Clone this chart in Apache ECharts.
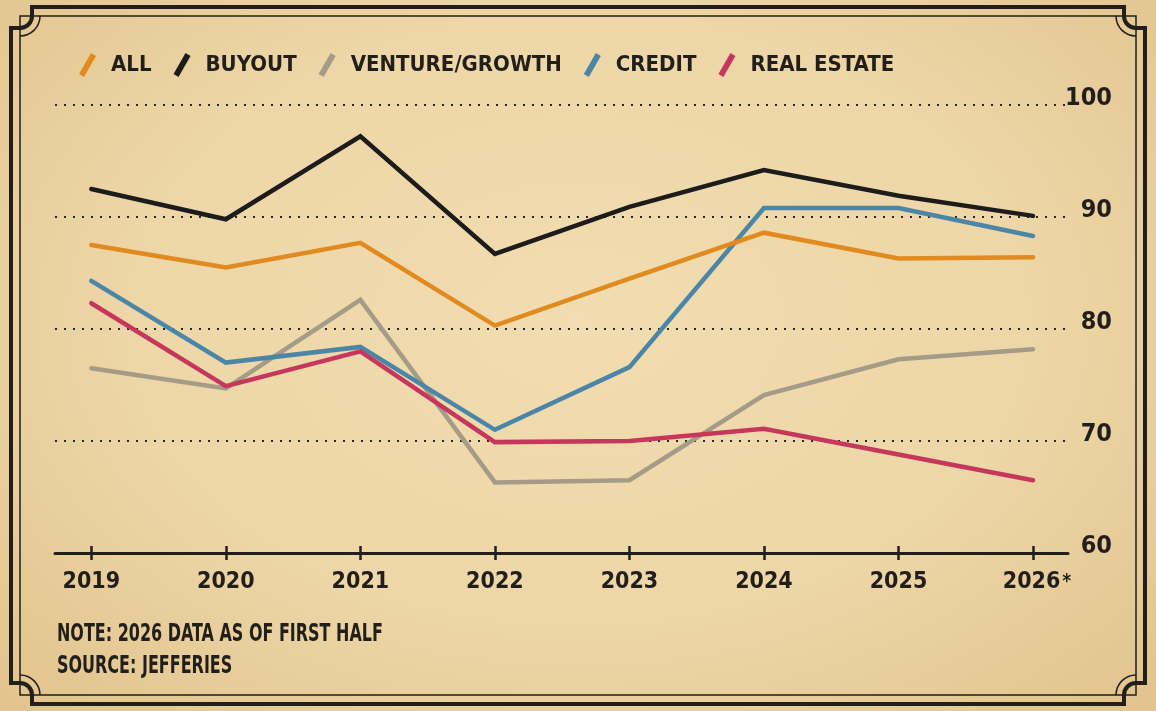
<!DOCTYPE html>
<html>
<head>
<meta charset="utf-8">
<script src="https://cdn.jsdelivr.net/npm/echarts@6/dist/echarts.min.js"></script>
<style>
    html, body {
        margin: 0;
        padding: 0;
        width: 1156px;
        height: 711px;
        overflow: hidden;
        background: radial-gradient(ellipse at 50% 45%, #f1ddb1 0%, #edd6a7 55%, #e1c38d 100%);
    }
    #chart {
        width: 1156px;
        height: 711px;
    }
</style>
</head>
<body>
<div id="chart"></div>
<script>
// values
var years = [2019, 2020, 2021, 2022, 2023, 2024, 2025, 2026];
var allFunds = [87.5, 85.5, 87.7, 80.3, 84.5, 88.6, 86.3, 86.4];
var buyout = [92.5, 89.8, 97.2, 86.7, 90.9, 94.2, 91.9, 90.1];
var ventureGrowth = [76.5, 74.7, 82.6, 66.3, 66.5, 74.1, 77.3, 78.2];
var credit = [84.3, 77.0, 78.4, 71.0, 76.6, 90.8, 90.8, 88.3];
var realEstate = [82.3, 74.9, 78.0, 69.9, 70.0, 71.1, 68.8, 66.5];
var yTicks = [60, 70, 80, 90, 100];

var ink = "#221e19";
var font = "'Liberation Sans Narrow', 'DejaVu Sans Condensed', 'DejaVu Sans', sans-serif";

function pairs(values) {
    return years.map(function (y, i) {
        return [y, values[i]];
    });
}

function lineSeries(name, values, color) {
    return {
        name: name,
        type: "line",
        data: pairs(values),
        showSymbol: false,
        symbol: "none",
        lineStyle: { color: color, width: 4.5, cap: "round", join: "miter" },
        itemStyle: { color: color },
        emphasis: { disabled: true },
    };
}

// frame with notched corners
function frame() {
    var L = 11, T = 7, R = 1145, B = 704;
    var l = 20, t = 16, r = 1136, b = 695;
    var thick = { stroke: ink, lineWidth: 4, fill: null };
    var thin = { stroke: ink, lineWidth: 1.5, fill: null };
    var els = [
        { type: "polyline", shape: { points: [[32, t], [32, T], [r - 12, T], [r - 12, t]] }, style: thick },
        { type: "polyline", shape: { points: [[32, b], [32, B], [r - 12, B], [r - 12, b]] }, style: thick },
        { type: "polyline", shape: { points: [[l, t + 12], [L, t + 12], [L, b - 12], [l, b - 12]] }, style: thick },
        { type: "polyline", shape: { points: [[r, t + 12], [R, t + 12], [R, b - 12], [r, b - 12]] }, style: thick },
        { type: "rect", shape: { x: l, y: t, width: r - l, height: b - t }, style: thin },
    ];
    var corners = [[l, t, 0], [r, t, 0.5], [r, b, 1], [l, b, 1.5]];
    corners.forEach(function (c) {
        var a0 = c[2] * Math.PI;
        els.push({ type: "arc", shape: { cx: c[0], cy: c[1], r: 12, startAngle: a0, endAngle: a0 + Math.PI / 2 }, style: thick });
        els.push({ type: "arc", shape: { cx: c[0], cy: c[1], r: 20, startAngle: a0, endAngle: a0 + Math.PI / 2 }, style: thin });
    });
    return els;
}

var myChart = echarts.init(document.getElementById("chart"));

var option = {
    backgroundColor: "transparent",
    animation: false,
    textStyle: { fontFamily: font, color: ink },
    legend: {
        data: ["ALL", "BUYOUT", "VENTURE/GROWTH", "CREDIT", "REAL ESTATE"],
        left: 74,
        top: 48,
        icon: "path://M12,0 L17,3 L5,24 L0,21 Z",
        itemWidth: 17,
        itemHeight: 24,
        itemGap: 22,
        textStyle: {
            fontFamily: font,
            fontWeight: "bold",
            fontSize: 22,
            color: ink,
            padding: [0, 0, 0, 10],
        },
    },
    grid: {
        left: 55,
        right: 88,
        top: 105,
        bottom: 158,
        containLabel: false,
    },
    xAxis: [
        {
            type: "value",
            min: 2018.73,
            max: 2026.26,
            axisLine: { show: true, lineStyle: { color: ink, width: 3 } },
            axisTick: { show: true, customValues: years, length: 7, lineStyle: { color: ink, width: 2.5 } },
            axisLabel: {
                customValues: years,
                margin: 15,
                formatter: function (v) {
                    if (v === 2026) {
                        return "{sp|}{y|2026}{s|*}";
                    }
                    return "{y|" + v + "}";
                },
                rich: {
                    sp: { width: 8, height: 28 },
                    y: { fontFamily: font, fontWeight: "bold", fontSize: 23, color: ink, height: 28, lineHeight: 28 },
                    s: { fontFamily: font, fontWeight: "bold", fontSize: 19, color: ink, height: 28, lineHeight: 28, verticalAlign: "top", padding: [0, 0, 0, 2] },
                },
            },
            splitLine: { show: false },
        },
        {
            type: "value",
            min: 2018.73,
            max: 2026.26,
            position: "bottom",
            axisLine: { show: false },
            axisTick: { show: true, inside: true, customValues: years, length: 7, lineStyle: { color: ink, width: 2.5 } },
            axisLabel: { show: false },
            splitLine: { show: false },
        },
    ],
    yAxis: {
        type: "value",
        position: "right",
        min: yTicks[0],
        max: yTicks[yTicks.length - 1],
        interval: 10,
        axisLine: { show: false },
        axisTick: { show: false },
        axisLabel: {
            align: "right",
            margin: 44,
            verticalAlign: "middle",
            showMinLabel: true,
            showMaxLabel: true,
            formatter: function (v) {
                return "{v|" + v + "}";
            },
            rich: {
                v: {
                    fontFamily: font,
                    fontWeight: "bold",
                    fontSize: 25,
                    color: ink,
                    padding: [0, 0, 14, 0],
                },
            },
        },
        splitLine: {
            show: true,
            lineStyle: { color: "#2a251f", width: 2, type: [2, 7] },
        },
    },
    series: [
        lineSeries("VENTURE/GROWTH", ventureGrowth, "#a59b86"),
        lineSeries("CREDIT", credit, "#4b86a7"),
        lineSeries("REAL ESTATE", realEstate, "#c6385b"),
        lineSeries("ALL", allFunds, "#e18a1f"),
        lineSeries("BUYOUT", buyout, "#1e1c1a"),
    ],
    graphic: frame().concat([
        {
            type: "text",
            x: 57,
            y: 623,
            scaleX: 0.74,
            style: { text: "NOTE: 2026 DATA AS OF FIRST HALF", font: "bold 24px " + font, fill: ink },
        },
        {
            type: "text",
            x: 57,
            y: 655,
            scaleX: 0.74,
            style: { text: "SOURCE: JEFFERIES", font: "bold 24px " + font, fill: ink },
        },
    ]),
};

myChart.setOption(option);
window.addEventListener("resize", function () {
    myChart.resize();
});
</script>
</body>
</html>
